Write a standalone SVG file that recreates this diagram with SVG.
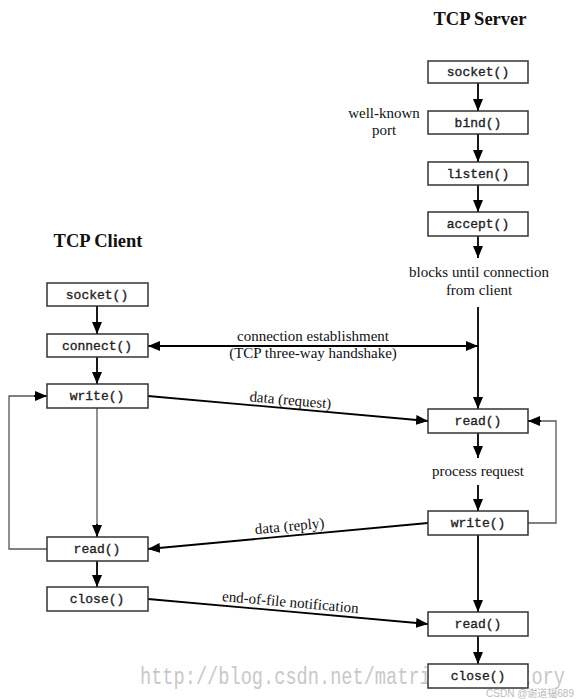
<svg xmlns="http://www.w3.org/2000/svg" width="576" height="699" viewBox="0 0 576 699">
<defs>
<marker id="ah" markerUnits="userSpaceOnUse" markerWidth="12" markerHeight="10" refX="12" refY="5" orient="auto-start-reverse">
<path d="M0,0 L12,5 L0,10 Z" fill="#000"/>
</marker>
</defs>
<style>
.box{fill:#fff;stroke:#333;stroke-width:1.5}
.code{font-family:"Liberation Mono","DejaVu Sans Mono",monospace;font-size:13px;fill:#222;stroke:#222;stroke-width:0.35;text-anchor:middle}
.lbl{font-family:"Liberation Serif","DejaVu Serif",serif;font-size:15px;fill:#111}
.ttl{font-family:"Liberation Serif","DejaVu Serif",serif;font-size:18.5px;font-weight:bold;fill:#111;text-anchor:middle}
.ln{stroke:#000;stroke-width:1.8;fill:none}
.thin{stroke:#555;stroke-width:1.3;fill:none}
.wm{font-family:"Liberation Mono","DejaVu Sans Mono",monospace;font-size:23px;fill:#c8c8c8}
</style>
<rect width="576" height="699" fill="#fff"/>
<text class="ttl" x="480" y="25">TCP Server</text>
<text class="ttl" x="98" y="247">TCP Client</text>
<text class="wm" x="140" y="684" textLength="425" lengthAdjust="spacingAndGlyphs">http://blog.csdn.net/matrix_laboratory</text>
<g id="connectors">
<line class="ln" x1="478" y1="83" x2="478" y2="111" marker-end="url(#ah)"/>
<line class="ln" x1="478" y1="134" x2="478" y2="162" marker-end="url(#ah)"/>
<line class="ln" x1="478" y1="185" x2="478" y2="212" marker-end="url(#ah)"/>
<line class="ln" x1="478" y1="236" x2="478" y2="258" marker-end="url(#ah)"/>
<line class="ln" x1="478" y1="307" x2="478" y2="409" marker-end="url(#ah)"/>
<line class="ln" x1="148" y1="346" x2="478" y2="346" marker-start="url(#ah)" marker-end="url(#ah)"/>
<line class="ln" x1="148" y1="396" x2="428" y2="421" marker-end="url(#ah)"/>
<line class="ln" x1="478" y1="433" x2="478" y2="458" marker-end="url(#ah)"/>
<line class="ln" x1="478" y1="485" x2="478" y2="511" marker-end="url(#ah)"/>
<polyline class="thin" points="528,523 556,523 556,421 540,421"/>
<line class="ln" x1="541" y1="421" x2="528" y2="421" marker-end="url(#ah)"/>
<line class="ln" x1="428" y1="523" x2="148" y2="549" marker-end="url(#ah)"/>
<line class="ln" x1="478" y1="535" x2="478" y2="612" marker-end="url(#ah)"/>
<line class="ln" x1="478" y1="636" x2="478" y2="664" marker-end="url(#ah)"/>
<line class="ln" x1="97" y1="306" x2="97" y2="334" marker-end="url(#ah)"/>
<line class="ln" x1="97" y1="357" x2="97" y2="384" marker-end="url(#ah)"/>
<line class="thin" x1="97" y1="408" x2="97" y2="527"/>
<line class="ln" x1="97" y1="524" x2="97" y2="537" marker-end="url(#ah)"/>
<polyline class="thin" points="47,549 9,549 9,396 35,396"/>
<line class="ln" x1="34" y1="396" x2="47" y2="396" marker-end="url(#ah)"/>
<line class="ln" x1="97" y1="561" x2="97" y2="587" marker-end="url(#ah)"/>
<line class="ln" x1="148" y1="599" x2="428" y2="624" marker-end="url(#ah)"/>
</g>
<g id="labels">
<text class="lbl" x="384" y="118" text-anchor="middle">well-known</text>
<text class="lbl" x="384" y="135" text-anchor="middle">port</text>
<text class="lbl" x="479" y="277" text-anchor="middle">blocks until connection</text>
<text class="lbl" x="479" y="295" text-anchor="middle">from client</text>
<text class="lbl" x="313" y="341" text-anchor="middle">connection establishment</text>
<text class="lbl" x="313" y="358" text-anchor="middle">(TCP three-way handshake)</text>
<text class="lbl" x="290" y="405" text-anchor="middle" transform="rotate(5.1 290 405)">data (request)</text>
<text class="lbl" x="478" y="476" text-anchor="middle">process request</text>
<text class="lbl" x="290" y="531" text-anchor="middle" transform="rotate(-5.3 290 531)">data (reply)</text>
<text class="lbl" x="290" y="607" text-anchor="middle" transform="rotate(5.1 290 607)">end-of-file notification</text>
</g>
<g id="srv-socket"><rect class="box" x="428" y="61" width="100" height="22"/><text class="code" x="478" y="76">socket()</text></g>
<g id="srv-bind"><rect class="box" x="428" y="111" width="100" height="23"/><text class="code" x="478" y="127">bind()</text></g>
<g id="srv-listen"><rect class="box" x="428" y="162" width="100" height="23"/><text class="code" x="478" y="178">listen()</text></g>
<g id="srv-accept"><rect class="box" x="428" y="212" width="100" height="24"/><text class="code" x="478" y="228">accept()</text></g>
<g id="srv-read1"><rect class="box" x="428" y="409" width="100" height="24"/><text class="code" x="478" y="425">read()</text></g>
<g id="srv-write"><rect class="box" x="428" y="511" width="100" height="24"/><text class="code" x="478" y="527">write()</text></g>
<g id="srv-read2"><rect class="box" x="428" y="612" width="100" height="24"/><text class="code" x="478" y="628">read()</text></g>
<g id="srv-close"><rect class="box" x="428" y="664" width="100" height="24"/><text class="code" x="478" y="680">close()</text></g>
<g id="cli-socket"><rect class="box" x="47" y="283" width="101" height="23"/><text class="code" x="97" y="299">socket()</text></g>
<g id="cli-connect"><rect class="box" x="47" y="334" width="101" height="23"/><text class="code" x="97" y="350">connect()</text></g>
<g id="cli-write"><rect class="box" x="47" y="384" width="101" height="24"/><text class="code" x="97" y="400">write()</text></g>
<g id="cli-read"><rect class="box" x="47" y="537" width="101" height="24"/><text class="code" x="97" y="553">read()</text></g>
<g id="cli-close"><rect class="box" x="47" y="587" width="101" height="24"/><text class="code" x="97" y="603">close()</text></g>
<text x="574" y="697" text-anchor="end" font-family="'Liberation Sans','Noto Sans CJK SC',sans-serif" font-size="10" fill="#bbb">CSDN @谢道韫689</text>
</svg>
